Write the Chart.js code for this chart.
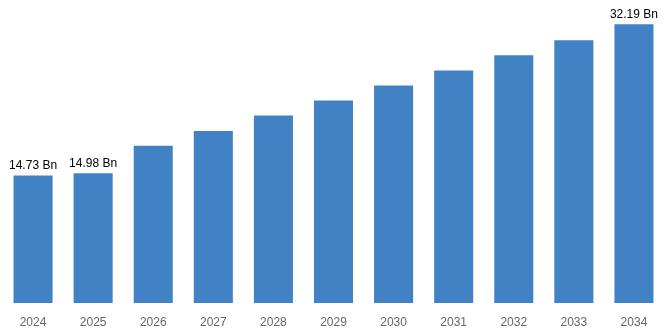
<!DOCTYPE html>
<html>
<head>
<meta charset="utf-8">
<script src="https://cdn.jsdelivr.net/npm/chart.js@4.4.1/dist/chart.umd.min.js"></script>
<style>
  html, body { margin: 0; padding: 0; background: #fff; }
  #wrap { width: 668px; height: 334px; }
</style>
</head>
<body>
<div id="wrap"><canvas id="c" width="668" height="334"></canvas></div>
<script>
const years = ['2024', '2025', '2026', '2027', '2028', '2029', '2030', '2031', '2032', '2033', '2034'];
const marketSize = [14.73, 14.98, 18.15, 19.88, 21.66, 23.39, 25.12, 26.85, 28.61, 30.35, 32.19];
// Only these years carry a value label
const labelledYears = ['2024', '2025', '2034'];

const valueLabels = {
  id: 'valueLabels',
  afterDatasetsDraw(chart) {
    const { ctx } = chart;
    const meta = chart.getDatasetMeta(0);
    ctx.save();
    ctx.font = '12px "Liberation Sans", Arial, sans-serif';
    ctx.fillStyle = '#000';
    ctx.textAlign = 'center';
    ctx.textBaseline = 'bottom';
    meta.data.forEach((bar, i) => {
      if (!labelledYears.includes(years[i])) return;
      ctx.fillText(marketSize[i].toFixed(2) + ' Bn', bar.x, bar.y - 4);
    });
    ctx.restore();
  }
};

new Chart(document.getElementById('c'), {
  type: 'bar',
  data: {
    labels: years,
    datasets: [{
      data: marketSize,
      backgroundColor: '#4182c4',
      borderWidth: 0,
      categoryPercentage: 1.0,
      barPercentage: 0.65
    }]
  },
  options: {
    responsive: false,
    animation: false,
    layout: { padding: { left: 3, right: 4, top: 0, bottom: 0 } },
    plugins: { legend: { display: false }, tooltip: { enabled: false } },
    scales: {
      y: { display: false, min: 0, max: 35 },
      x: {
        afterFit(scale) { scale.height = 31; },
        grid: { display: false, drawTicks: false },
        border: { display: false },
        ticks: {
          color: '#666',
          font: { size: 12, family: '"Liberation Sans", Arial, sans-serif' },
          padding: 12,
          maxRotation: 0
        }
      }
    }
  },
  plugins: [valueLabels]
});
</script>
</body>
</html>
